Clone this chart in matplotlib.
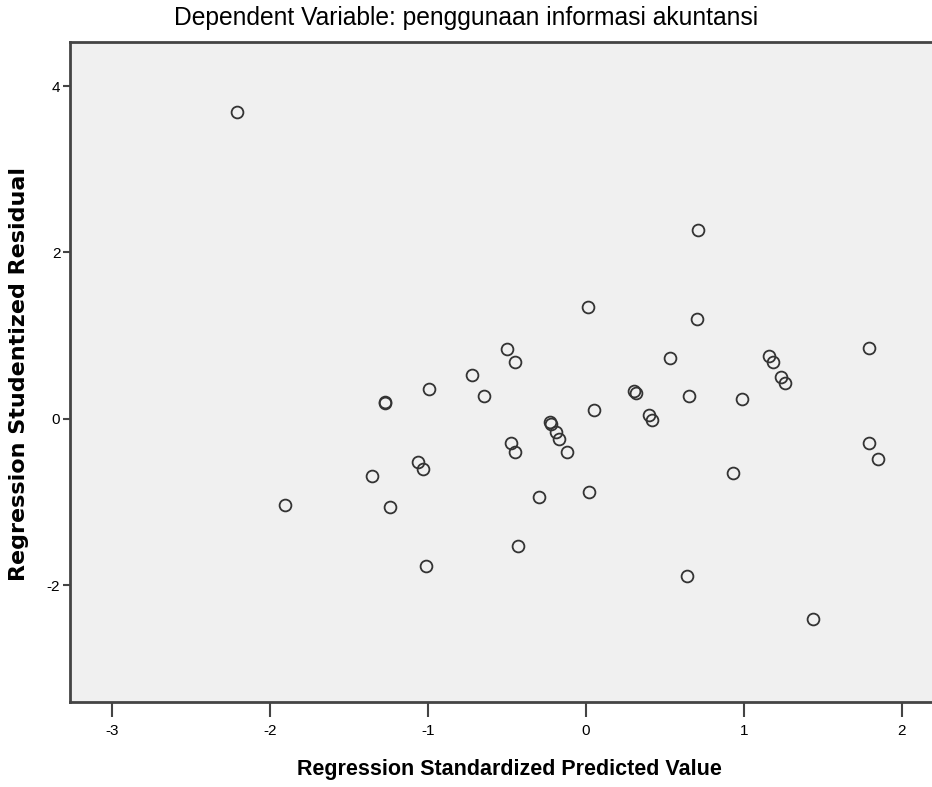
#!/usr/bin/env python3
"""
Scatterplot of studentized residuals vs standardized predicted values
(SPSS-style residual plot)
"""

import matplotlib
matplotlib.use('Agg')
import matplotlib.pyplot as plt
import numpy as np

# Regression Standardized Predicted Value
pred_values = [
    -2.21, -1.905, -1.352, -1.274, -1.27, -1.242, -1.061, -1.034, -1.011,
    -0.996, -0.72, -0.646, -0.498, -0.475, -0.447, -0.447, -0.428, -0.295,
    -0.23, -0.22, -0.19, -0.169, -0.122, 0.011, 0.019, 0.049,
    0.306, 0.316, 0.397, 0.416, 0.53, 0.639, 0.65, 0.705, 0.709,
    0.928, 0.985, 1.158, 1.181, 1.236, 1.261, 1.437, 1.789, 1.793, 1.846,
]
# Regression Studentized Residual
resid_values = [
    3.69, -1.033, -0.685, 0.196, 0.19, -1.06, -0.525, -0.60, -1.77,
    0.357, 0.528, 0.276, 0.84, -0.29, 0.685, -0.40, -1.53, -0.94,
    -0.04, -0.06, -0.16, -0.245, -0.40, 1.34, -0.885, 0.11,
    0.34, 0.308, 0.04, -0.02, 0.725, -1.886, 0.276, 1.197, 2.27,
    -0.649, 0.244, 0.76, 0.677, 0.508, 0.428, -2.41, -0.285, 0.853, -0.484,
]
x_ticks = [-3, -2, -1, 0, 1, 2]
y_ticks = [-2, 0, 2, 4]

plt.rcParams['font.family'] = ['Liberation Sans', 'DejaVu Sans']

fig = plt.figure(figsize=(9.32, 7.87), dpi=100)
ax = fig.add_axes([0.0751, 0.108, 0.9249, 0.8386])
ax.set_facecolor('#f0f0f0')

ax.plot(pred_values, resid_values, linestyle='none', marker='o',
        markersize=8.5, markerfacecolor='none', markeredgecolor='#333333',
        markeredgewidth=1.3)

ax.set_xlim(-3.266, 2.19)
ax.set_ylim(-3.405, 4.53)
ax.set_xticks(x_ticks)
ax.set_yticks(y_ticks)
ax.set_xticklabels([str(t) for t in x_ticks])
ax.set_yticklabels([str(t) for t in y_ticks])

for side in ['left', 'bottom', 'top']:
    ax.spines[side].set_color('#444444')
    ax.spines[side].set_linewidth(2)
ax.spines['right'].set_visible(False)

ax.tick_params(axis='x', direction='out', length=11, width=1.5, color='#444444',
               labelsize=11, pad=5)
ax.tick_params(axis='y', direction='out', length=5, width=1.5, color='#444444',
               labelsize=11, pad=2)

fig.text(0.5, 0.977, 'Dependent Variable: penggunaan informasi akuntansi',
         ha='center', va='center', fontsize=17.7)
fig.text(0.547, 0.022, 'Regression Standardized Predicted Value',
         ha='center', va='center', fontsize=15.5, fontweight='bold')
fig.text(0.02, 0.525, 'Regression Studentized Residual', rotation=90,
         ha='center', va='center', fontsize=16, fontweight='bold',
         family='DejaVu Sans')

plt.savefig('out.png', dpi=100)
plt.close()
